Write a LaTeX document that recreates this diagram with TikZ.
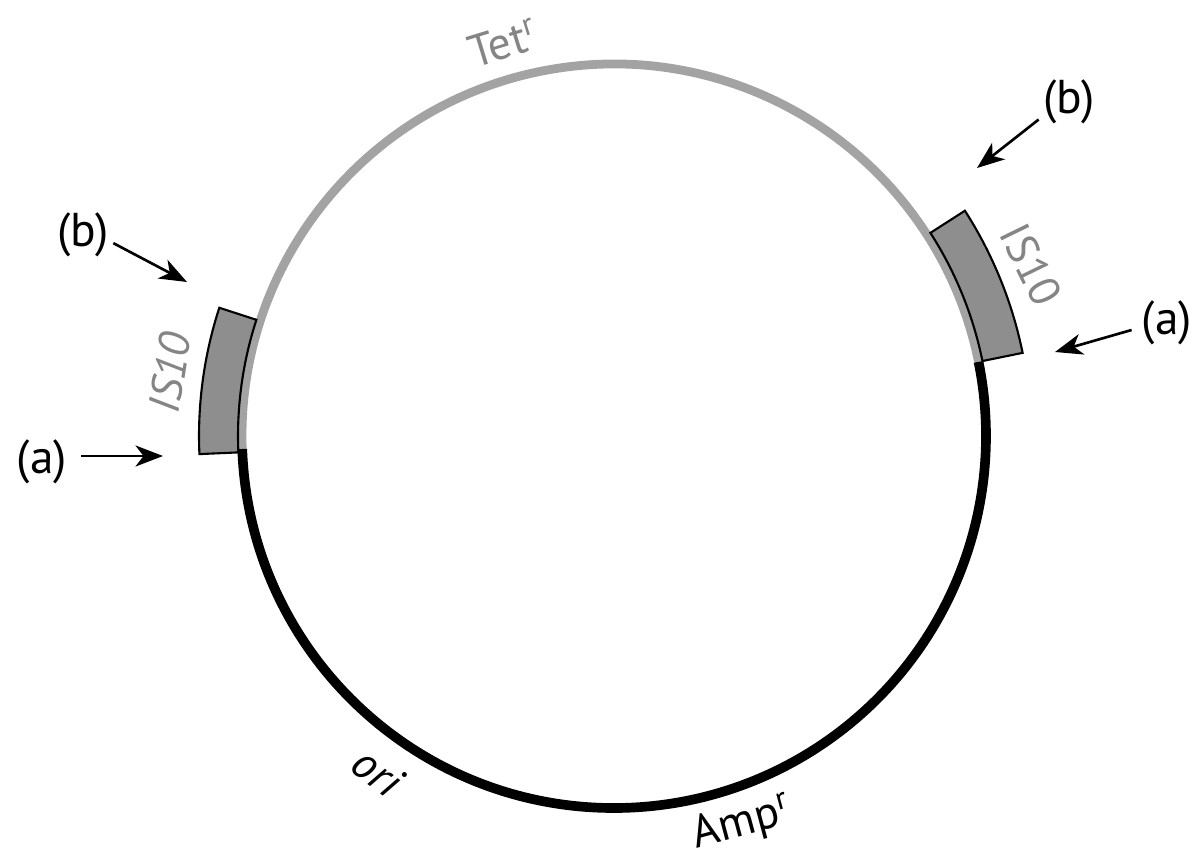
\documentclass[tikz,border=0pt]{standalone}
\usepackage{fontspec}
\setmainfont{PT Sans}
\usepackage{xcolor}
\definecolor{tetgray}{HTML}{A3A3A3}
\definecolor{isgray}{HTML}{8E8E8E}
\definecolor{labelgray}{HTML}{858585}
\usepackage{tikz}
\usetikzlibrary{arrows.meta,positioning}
\tikzset{
  every picture/.style={line width=1pt},
  tetline/.style={draw=tetgray, line width=5pt},
  ampline/.style={draw=black, line width=5.5pt},
  isbox/.style={draw=black, fill=isgray, line width=1.2pt},
  arrow/.style={-{Stealth[length=5.5mm, width=4.2mm, inset=1.6mm]}, line width=1.5pt},
  site/.style={font=\fontsize{27}{31}\selectfont, inner sep=2pt},
  gene/.style={font=\fontsize{26}{30}\selectfont, inner sep=0pt},
}

\begin{document}
\begin{tikzpicture}[x=0.02cm, y=0.02cm,
    isname/.style={gene, text=labelgray}]
  \useasboundingbox (0,0) rectangle (1199,860);
  \coordinate (c) at (614,424);
  % plasmid ring and the two IS10 copies
  \begin{scope}[shift={(c)}]
    \draw[tetline] (11.5:372) arc[start angle=11.5, end angle=182, radius=372];
    \draw[ampline] (182:372) arc[start angle=182, end angle=371.5, radius=372];
    \draw[isbox] (162:376) arc[start angle=162, end angle=182.5, radius=376]
      -- (182.5:415) arc[start angle=182.5, end angle=162, radius=415] -- cycle;
    \draw[isbox] (11.5:376) arc[start angle=11.5, end angle=32.7, radius=376]
      -- (32.7:417) arc[start angle=32.7, end angle=11.5, radius=417] -- cycle;
  \end{scope}
  \node[isname, rotate=17] (tet) at (503,817) {Tet\textsuperscript{r}};
  \node[gene, rotate=15] (amp) at (742,36) {Amp\textsuperscript{r}};
  \node[gene, rotate=-37, font=\fontsize{26}{30}\selectfont\itshape] (ori) at (378,88) {ori};
  \node[isname, rotate=81, font=\fontsize{25}{29}\selectfont\itshape] (isleft) at (170,487) {IS10};
  \node[isname, rotate=-64, font=\fontsize{25}{29}\selectfont] (isright) at (1031,595) {IS10};
  % insertion sites
  \node[site] (bleft) at (83,625) {(b)};
  \node[site] (aleft) at (42,398) {(a)};
  \node[site] (bright) at (1069,758) {(b)};
  \node[site] (aright) at (1167,537) {(a)};
  \coordinate (bleftend) at (187,578);
  \coordinate (aleftend) at (163,404);
  \coordinate (brightend) at (977,692);
  \coordinate (arightend) at (1055,508);
  \draw[arrow] (bleft.-15) -- (bleftend);
  \draw[arrow] (aleft.east |- aleftend) ++(10,0) -- (aleftend);
  \draw[arrow] (bright.-150) -- (brightend);
  \draw[arrow] (aright.west) ++(-6,-7) -- (arightend);
\end{tikzpicture}
\end{document}
